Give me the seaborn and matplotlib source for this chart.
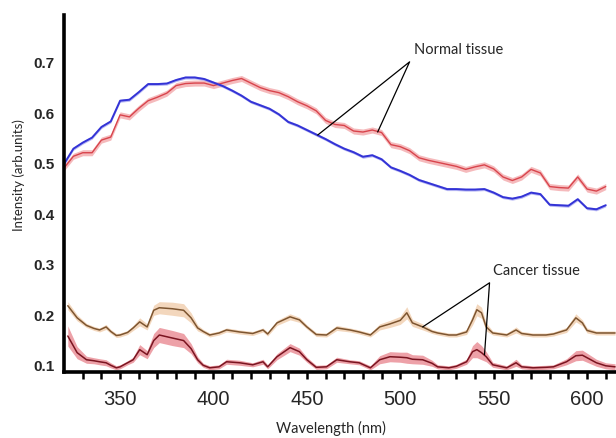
import numpy as np
import pandas as pd
import matplotlib
matplotlib.use("Agg")
import matplotlib.pyplot as plt
import seaborn as sns

# ---------------- data ----------------
wl_normal = [320, 325, 330, 335, 340, 345, 350, 355, 360, 365, 370, 375, 380, 385, 390,
             395, 400, 405, 410, 415, 420, 425, 430, 435, 440, 445, 450, 455, 460, 465,
             470, 475, 480, 485, 490, 495, 500, 505, 510, 515, 520, 525, 530, 535, 540,
             545, 550, 555, 560, 565, 570, 575, 580, 585, 590, 595, 600, 605, 610]
normal_blue = [0.500, 0.530, 0.542, 0.552, 0.573, 0.584, 0.625, 0.627, 0.642, 0.658,
               0.658, 0.659, 0.666, 0.671, 0.671, 0.668, 0.661, 0.654, 0.645, 0.635,
               0.623, 0.616, 0.609, 0.598, 0.583, 0.576, 0.567, 0.558, 0.549, 0.539,
               0.530, 0.523, 0.514, 0.517, 0.509, 0.493, 0.486, 0.478, 0.468, 0.462,
               0.456, 0.450, 0.450, 0.449, 0.449, 0.450, 0.443, 0.434, 0.431, 0.435,
               0.443, 0.440, 0.419, 0.418, 0.417, 0.430, 0.412, 0.410, 0.418]
normal_red = [0.492, 0.515, 0.522, 0.522, 0.547, 0.553, 0.597, 0.593, 0.610, 0.625,
              0.632, 0.640, 0.655, 0.659, 0.660, 0.660, 0.655, 0.660, 0.665, 0.669,
              0.660, 0.651, 0.645, 0.641, 0.633, 0.623, 0.615, 0.605, 0.586, 0.578,
              0.576, 0.565, 0.563, 0.567, 0.562, 0.538, 0.534, 0.526, 0.512, 0.507,
              0.503, 0.499, 0.495, 0.489, 0.494, 0.498, 0.490, 0.474, 0.467, 0.474,
              0.489, 0.482, 0.455, 0.453, 0.452, 0.474, 0.450, 0.446, 0.455]
normal_blue_err = 0.003
normal_red_err = 0.006

wl_cancer = [322, 327, 332, 336, 339, 342.5, 345, 348, 350, 354, 357, 360.5, 364.5, 368,
             371, 378, 384, 388, 391.5, 394.5, 398, 403, 407, 414, 421, 426.5, 429, 434,
             441, 446, 450, 455, 460.5, 466, 473, 478, 484, 489, 494.5, 500, 503.5, 506.5,
             512, 517, 520, 526, 530, 535.5, 538.7, 541, 543.5, 546, 549.5, 557, 562, 565,
             571, 578, 582, 589, 594, 597.5, 600, 605, 610, 615]
cancer_brown = [0.219, 0.195, 0.180, 0.174, 0.171, 0.177, 0.168, 0.160, 0.161, 0.166,
                0.175, 0.187, 0.177, 0.210, 0.215, 0.213, 0.210, 0.195, 0.175, 0.168,
                0.161, 0.165, 0.171, 0.167, 0.164, 0.171, 0.163, 0.185, 0.197, 0.191,
                0.177, 0.162, 0.161, 0.175, 0.171, 0.167, 0.161, 0.177, 0.183, 0.190,
                0.205, 0.185, 0.177, 0.168, 0.165, 0.161, 0.161, 0.167, 0.191, 0.211,
                0.205, 0.177, 0.165, 0.161, 0.171, 0.164, 0.161, 0.161, 0.163, 0.171,
                0.195, 0.185, 0.170, 0.165, 0.165, 0.165]
cancer_brown_err = [0.008, 0.006, 0.004, 0.004, 0.004, 0.005, 0.004, 0.004, 0.004, 0.004,
                    0.005, 0.008, 0.006, 0.010, 0.012, 0.013, 0.013, 0.010, 0.006, 0.004,
                    0.004, 0.004, 0.004, 0.004, 0.004, 0.004, 0.004, 0.005, 0.006, 0.005,
                    0.004, 0.004, 0.004, 0.005, 0.004, 0.004, 0.004, 0.006, 0.007, 0.008,
                    0.012, 0.007, 0.006, 0.004, 0.004, 0.004, 0.004, 0.005, 0.010, 0.012,
                    0.011, 0.008, 0.004, 0.004, 0.006, 0.004, 0.004, 0.004, 0.004, 0.005,
                    0.008, 0.006, 0.005, 0.004, 0.004, 0.004]
cancer_red = [0.159, 0.126, 0.112, 0.110, 0.108, 0.106, 0.101, 0.096, 0.098, 0.106,
              0.112, 0.132, 0.122, 0.150, 0.161, 0.155, 0.150, 0.134, 0.112, 0.101,
              0.096, 0.098, 0.108, 0.106, 0.102, 0.108, 0.098, 0.118, 0.136, 0.128,
              0.112, 0.097, 0.098, 0.112, 0.108, 0.106, 0.096, 0.112, 0.118, 0.117,
              0.116, 0.113, 0.112, 0.105, 0.098, 0.096, 0.099, 0.108, 0.128, 0.132,
              0.126, 0.118, 0.102, 0.096, 0.106, 0.098, 0.096, 0.097, 0.098, 0.108,
              0.120, 0.121, 0.116, 0.106, 0.100, 0.098]
cancer_red_err = [0.020, 0.012, 0.007, 0.006, 0.006, 0.006, 0.005, 0.004, 0.004, 0.004,
                  0.005, 0.010, 0.008, 0.014, 0.015, 0.015, 0.014, 0.010, 0.006, 0.004,
                  0.004, 0.004, 0.005, 0.005, 0.004, 0.005, 0.004, 0.006, 0.008, 0.007,
                  0.005, 0.004, 0.004, 0.005, 0.004, 0.004, 0.004, 0.008, 0.010, 0.010,
                  0.011, 0.009, 0.009, 0.006, 0.004, 0.004, 0.004, 0.005, 0.012, 0.016,
                  0.014, 0.010, 0.005, 0.004, 0.007, 0.004, 0.004, 0.004, 0.004, 0.006,
                  0.010, 0.010, 0.009, 0.007, 0.006, 0.006]

x_ticks = [350, 400, 450, 500, 550, 600]
y_ticks = [0.1, 0.2, 0.3, 0.4, 0.5, 0.6, 0.7]
y_ticklabels = ["0.1", "0.2", "0.3", "0.4", "0.5", "0.6", "0.7"]

# ---------------- figure ----------------
sns.set_style("white")
plt.rcParams['font.family'] = ['Liberation Sans', 'DejaVu Sans']

fig = plt.figure(figsize=(6.16, 4.38), dpi=100)
ax = fig.add_axes([0.104, 0.151, 0.896, 0.815])

df_n = pd.DataFrame({"wl": wl_normal, "blue": normal_blue, "red": normal_red})
df_c = pd.DataFrame({"wl": wl_cancer, "brown": cancer_brown, "bErr": cancer_brown_err,
                     "red": cancer_red, "rErr": cancer_red_err})

# bands
ax.fill_between(df_n.wl, df_n.red - normal_red_err, df_n.red + normal_red_err,
                color="#f2a3a6", alpha=0.75, lw=0)
ax.fill_between(df_n.wl, df_n.blue - normal_blue_err, df_n.blue + normal_blue_err,
                color="#9c9cf0", alpha=0.7, lw=0)
ax.fill_between(df_c.wl, df_c.brown - df_c.bErr, df_c.brown + df_c.bErr,
                color="#f2d3b6", alpha=0.9, lw=0)
ax.fill_between(df_c.wl, df_c.red - df_c.rErr, df_c.red + df_c.rErr,
                color="#e98a92", alpha=0.8, lw=0)

# lines
sns.lineplot(data=df_n, x="wl", y="red", ax=ax, color="#d8444c", lw=1.0)
sns.lineplot(data=df_n, x="wl", y="blue", ax=ax, color="#3333d6", lw=1.4)
sns.lineplot(data=df_c, x="wl", y="brown", ax=ax, color="#7d5530", lw=1.1)
sns.lineplot(data=df_c, x="wl", y="red", ax=ax, color="#7a1420", lw=1.1)

ax.set_xlim(320, 615.5)
ax.set_ylim(0.088, 0.795)

# spines
for s in ["top", "right"]:
    ax.spines[s].set_visible(False)
ax.spines["left"].set_linewidth(2.6)
ax.spines["bottom"].set_linewidth(2.6)
ax.spines["left"].set_color("black")
ax.spines["bottom"].set_color("black")

ax.set_xticks(x_ticks)
ax.set_xticks(np.arange(330, 615, 10), minor=True)
ax.tick_params(axis="x", which="both", direction="out", length=5, width=1.8,
               color="black", bottom=True, labelsize=14.5, pad=8)
ax.set_yticks(y_ticks)
ax.set_yticklabels(y_ticklabels, fontweight="bold", fontsize=11)
ax.tick_params(axis="y", length=0, pad=7)

ax.set_xlabel("Wavelength (nm)", fontsize=10.5, family=["Lato", "DejaVu Sans"])
ax.set_ylabel("Intensity (arb.units)", fontsize=9.5, family=["Lato", "DejaVu Sans"])
ax.yaxis.set_label_coords(-0.071, 0.55)
ax.xaxis.set_label_coords(0.484, -0.137)

# annotations
ax.text(507.5, 0.726, "Normal tissue", fontsize=10.5, family=["Lato", "DejaVu Sans"],
        va="center", ha="left")
ax.plot([455.8, 505, 487.9], [0.557, 0.702, 0.563], color="black", lw=0.9)
ax.text(549.5, 0.287, "Cancer tissue", fontsize=10.5, family=["Lato", "DejaVu Sans"],
        va="center", ha="left")
ax.plot([512, 547.8, 545.1], [0.177, 0.2644, 0.122], color="black", lw=0.9)

ax.grid(False)
fig.savefig("out.png", dpi=100)
